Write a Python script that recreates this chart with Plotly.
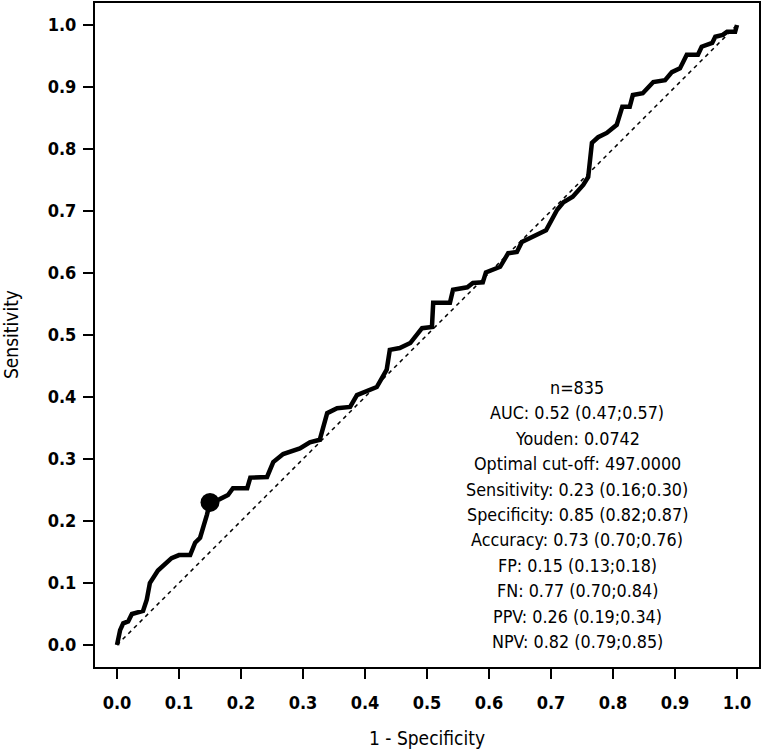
import plotly.graph_objects as go

# ROC curve: 1 - specificity vs sensitivity
fpr = [0.0, 0.003, 0.005, 0.01, 0.018, 0.024, 0.042, 0.048, 0.053, 0.066, 0.08, 0.088,
       0.10, 0.118, 0.126, 0.134, 0.145, 0.15, 0.165, 0.179, 0.187, 0.21, 0.215, 0.242,
       0.252, 0.268, 0.295, 0.311, 0.327, 0.339, 0.355, 0.376, 0.387, 0.419, 0.435, 0.44,
       0.456, 0.473, 0.492, 0.508, 0.51, 0.537, 0.542, 0.565, 0.574, 0.59, 0.595, 0.618,
       0.631, 0.645, 0.653, 0.677, 0.692, 0.71, 0.72, 0.735, 0.752, 0.76, 0.766, 0.776,
       0.79, 0.806, 0.815, 0.827, 0.832, 0.848, 0.865, 0.884, 0.895, 0.908, 0.919, 0.937,
       0.943, 0.96, 0.965, 0.977, 0.984, 0.997, 1.0]
tpr = [0.0, 0.015, 0.024, 0.035, 0.038, 0.05, 0.055, 0.073, 0.10, 0.12, 0.132, 0.14,
       0.145, 0.145, 0.165, 0.173, 0.21, 0.23, 0.235, 0.242, 0.253, 0.253, 0.27, 0.271,
       0.295, 0.308, 0.317, 0.327, 0.331, 0.374, 0.382, 0.384, 0.403, 0.416, 0.444, 0.476,
       0.479, 0.487, 0.511, 0.513, 0.552, 0.552, 0.573, 0.577, 0.584, 0.585, 0.601, 0.61,
       0.632, 0.634, 0.65, 0.661, 0.669, 0.702, 0.714, 0.723, 0.742, 0.755, 0.81, 0.819,
       0.826, 0.839, 0.868, 0.868, 0.887, 0.89, 0.908, 0.911, 0.924, 0.93, 0.952, 0.952,
       0.965, 0.971, 0.981, 0.984, 0.989, 0.989, 1.0]

# optimal cut-off point
opt_fpr = [0.15]
opt_tpr = [0.23]

diag = [0.0, 1.0]
ticks = [0.0, 0.1, 0.2, 0.3, 0.4, 0.5, 0.6, 0.7, 0.8, 0.9, 1.0]
tick_text = [f"{t:.1f}" for t in ticks]

stats_lines = [
    "n=835",
    "AUC: 0.52 (0.47;0.57)",
    "Youden: 0.0742",
    "Optimal cut-off: 497.0000",
    "Sensitivity: 0.23 (0.16;0.30)",
    "Specificity: 0.85 (0.82;0.87)",
    "Accuracy: 0.73 (0.70;0.76)",
    "FP: 0.15 (0.13;0.18)",
    "FN: 0.77 (0.70;0.84)",
    "PPV: 0.26 (0.19;0.34)",
    "NPV: 0.82 (0.79;0.85)",
]

FONT = "DejaVu Sans Condensed"

fig = go.Figure()

# reference diagonal
fig.add_trace(go.Scatter(
    x=diag, y=diag, mode='lines',
    line=dict(color='black', width=1.5, dash='4px,4px'),
    showlegend=False, hoverinfo='skip'
))

# ROC curve
fig.add_trace(go.Scatter(
    x=fpr, y=tpr, mode='lines',
    line=dict(color='black', width=4.5),
    showlegend=False
))

# optimal point
fig.add_trace(go.Scatter(
    x=opt_fpr, y=opt_tpr, mode='markers',
    marker=dict(color='black', size=19),
    showlegend=False
))

# stats text block, one annotation per line
y0 = 0.416
dy = 0.0411
for i, line in enumerate(stats_lines):
    fig.add_annotation(
        x=0.742, y=y0 - i * dy, xref='x', yref='y',
        text=line, showarrow=False, xanchor='center', yanchor='middle',
        font=dict(family=FONT, size=17.8, color='black')
    )

# axis titles
fig.add_annotation(
    x=0.5, y=-0.107, xref='paper', yref='paper', text="1 - Specificity",
    showarrow=False, xanchor='center', yanchor='middle',
    font=dict(family=FONT, size=19, color='black')
)
fig.add_annotation(
    x=-0.1265, y=0.5, xref='paper', yref='paper', text="Sensitivity",
    showarrow=False, textangle=-90, xanchor='center', yanchor='middle',
    font=dict(family=FONT, size=19, color='black')
)

axis_style = dict(
    range=[-0.0355, 1.0355], tickvals=ticks, ticktext=tick_text,
    showgrid=False, zeroline=False,
    showline=True, linecolor='black', linewidth=2, mirror=True,
    ticks='outside', ticklen=10, tickwidth=1.5, tickcolor='black',
    tickfont=dict(family=FONT, size=18, color='black', weight='bold'),
)

fig.update_layout(
    width=765, height=753,
    margin=dict(l=95, r=6, t=3, b=86, autoexpand=False),
    paper_bgcolor='white', plot_bgcolor='white',
    xaxis=dict(axis_style, ticklabelstandoff=8),
    yaxis=dict(axis_style, ticklabelstandoff=3),
)

# drop the browser's default body margin so the figure sits at the page corner
fig.write_html("out.html", config={'displayModeBar': False},
               post_script="document.body.style.margin='0px';")
